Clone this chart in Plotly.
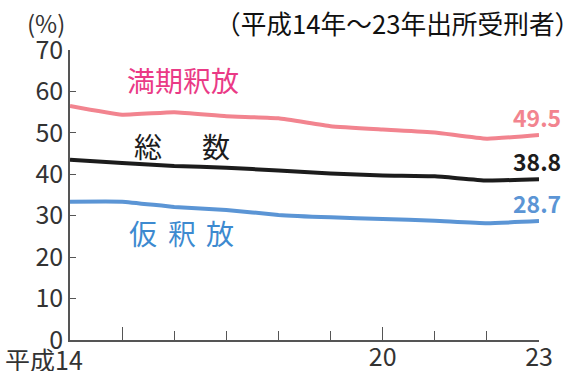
import plotly.graph_objects as go

years = [14, 15, 16, 17, 18, 19, 20, 21, 22, 23]
manki = [56.5, 54.4, 55.0, 54.0, 53.5, 51.6, 50.8, 50.1, 48.6, 49.5]
souso = [43.5, 42.7, 42.0, 41.6, 40.9, 40.2, 39.7, 39.5, 38.5, 38.8]
kari = [33.4, 33.4, 32.1, 31.4, 30.2, 29.6, 29.2, 28.8, 28.2, 28.7]

y_ticks = [0, 10, 20, 30, 40, 50, 60, 70]
x_label_vals = [20, 23]
x_label_text = ["20", "23"]
x_long_ticks = [15, 20]

FONT = "Noto Sans CJK JP"
PINK_LINE = "#f2848f"
PINK_TEXT = "#ea3a86"
BLACK = "#1c1c1c"
BLUE_LINE = "#5b95d5"
BLUE_TEXT = "#3d8ad0"

fig = go.Figure()
for vals, col in [(manki, PINK_LINE), (souso, BLACK), (kari, BLUE_LINE)]:
    fig.add_trace(go.Scatter(x=years, y=vals, mode="lines",
                             line=dict(color=col, width=4, shape="spline", smoothing=0.4),
                             showlegend=False, hoverinfo="skip", xaxis="x", yaxis="y"))

fig.add_trace(go.Scatter(x=[years[0], years[-1]], y=[0, 0], mode="lines",
                         line=dict(width=0), showlegend=False, hoverinfo="skip",
                         xaxis="x2", yaxis="y"))

fig.update_layout(
    width=569, height=371,
    margin=dict(l=70, r=30, t=50, b=31),
    paper_bgcolor="white", plot_bgcolor="white",
    font=dict(family=FONT, color="#333333"),
    xaxis=dict(range=[14, 23], showgrid=False, zeroline=False, automargin=False,
               showline=True, linecolor="#555555", linewidth=1.5,
               tickmode="array", tickvals=x_long_ticks, ticktext=["", ""],
               ticks="inside", ticklen=13, tickwidth=1.3, tickcolor="#555555",
               minor=dict(dtick=1, tick0=14, ticks="inside", ticklen=9,
                          tickwidth=1.3, tickcolor="#555555", showgrid=False),
               fixedrange=True),
    xaxis2=dict(range=[14, 23], overlaying="x", side="bottom", showgrid=False,
                zeroline=False, showline=False, ticks="", automargin=False,
                tickmode="array", tickvals=x_label_vals, ticktext=x_label_text,
                tickfont=dict(size=25, color="#333333", family=FONT),
                ticklabelstandoff=0),
    yaxis=dict(range=[0, 70], showgrid=False, zeroline=False, automargin=False,
               showline=True, linecolor="#555555", linewidth=1.5,
               tickmode="array", tickvals=y_ticks,
               ticks="inside", ticklen=6, tickwidth=1.3, tickcolor="#555555",
               tickfont=dict(size=25, color="#333333", family=FONT),
               ticklabelstandoff=0),
)

ann = []
ann.append(dict(text="平成14", x=14, y=0, xref="x", yref="y", xanchor="right",
                yanchor="top", xshift=15, yshift=1, showarrow=False,
                font=dict(size=25, color="#333333", family=FONT)))
ann.append(dict(text="(%)", x=46, y=22, showarrow=False,
                font=dict(size=24, color="#333333", family=FONT)))
ann.append(dict(text="（平成14年～23年出所受刑者）", x=582, y=23, showarrow=False,
                xanchor="right", font=dict(size=25.7, color="#111111", family=FONT)))
ann.append(dict(text="満期釈放", x=183, y=80, showarrow=False,
                font=dict(size=28, color=PINK_TEXT, family=FONT)))
for ch, cx in [("総", 147.5), ("数", 216)]:
    ann.append(dict(text=ch, x=cx, y=146, showarrow=False,
                    font=dict(size=28, color=BLACK, family=FONT)))
for ch, cx in [("仮", 142.5), ("釈", 181.5), ("放", 220)]:
    ann.append(dict(text=ch, x=cx, y=232.5, showarrow=False,
                    font=dict(size=28, color=BLUE_TEXT, family=FONT)))

W, H = 569, 371
L, R, T, B = 70, 30, 50, 31
pw, ph = W - L - R, H - T - B
for a in ann:
    if a.get("xref") == "x":
        continue
    px, py = a["x"], a["y"]
    a["xref"] = "paper"; a["yref"] = "paper"
    a["x"] = (px - L) / pw
    a["y"] = (H - B - py) / ph
    a.setdefault("yanchor", "middle")
    a.setdefault("xanchor", "center")

for vals, col in [(manki, PINK_LINE), (souso, BLACK), (kari, BLUE_LINE)]:
    ann.append(dict(text=f"<b>{vals[-1]:.1f}</b>", x=years[-1], y=vals[-1],
                    xref="x", yref="y", xanchor="center", yanchor="bottom",
                    xshift=-2, yshift=-1, showarrow=False,
                    font=dict(size=23, color=col, family=FONT)))

fig.update_layout(annotations=ann)
fig.write_html("out.html")
